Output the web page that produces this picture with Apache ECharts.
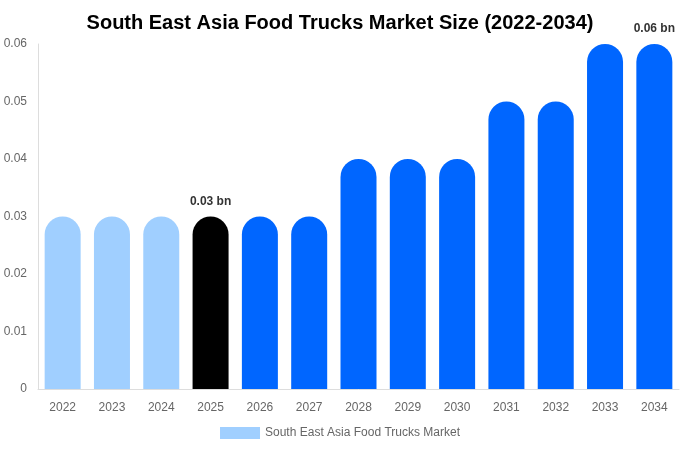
<!DOCTYPE html>
<html>
<head>
<meta charset="utf-8">
<script src="https://cdn.jsdelivr.net/npm/echarts@6/dist/echarts.min.js"></script>
<style>
html, body { margin: 0; padding: 0; background: #fff; }
#main { width: 680px; height: 450px; }
</style>
</head>
<body>
<div id="main"></div>
<script>
var years = ['2022', '2023', '2024', '2025', '2026', '2027', '2028', '2029', '2030', '2031', '2032', '2033', '2034'];
var values = [0.03, 0.03, 0.03, 0.03, 0.03, 0.03, 0.04, 0.04, 0.04, 0.05, 0.05, 0.06, 0.06];
var labelled = ['2025', '2034'];

var chart = echarts.init(document.getElementById('main'));

var data = values.map(function (v, i) {
    var y = years[i];
    var color = y < '2025' ? '#a0cfff' : (y === '2025' ? '#000000' : '#0066ff');
    var item = { value: v, itemStyle: { color: color } };
    if (labelled.indexOf(y) >= 0) {
        item.label = {
            show: true,
            position: 'top',
            distance: 9,
            formatter: function (p) { return p.value.toFixed(2) + ' bn'; },
            fontWeight: 'bold',
            fontSize: 12,
            color: '#333'
        };
    }
    return item;
});

chart.setOption({
    title: {
        text: 'South East Asia Food Trucks Market Size (2022-2034)',
        left: 'center',
        top: 8,
        textStyle: { fontSize: 20, fontWeight: 'bold', color: '#000', fontFamily: 'Liberation Sans, Arial, sans-serif' }
    },
    legend: {
        bottom: 6,
        left: 'center',
        icon: 'rect',
        itemWidth: 40,
        itemHeight: 12,
        itemGap: 6,
        textStyle: { color: '#666', fontSize: 12, fontFamily: 'Liberation Sans, Arial, sans-serif' },
        data: [{ name: 'South East Asia Food Trucks Market', itemStyle: { color: '#a0cfff' } }]
    },
    grid: { left: 38, right: 1, top: 44, bottom: 61 },
    xAxis: {
        type: 'category',
        data: years,
        axisLine: { lineStyle: { color: '#ddd' } },
        axisTick: { show: false },
        axisLabel: { color: '#666', fontSize: 12, margin: 13, fontFamily: 'Liberation Sans, Arial, sans-serif' }
    },
    yAxis: {
        type: 'value',
        min: 0,
        max: 0.06,
        interval: 0.01,
        axisLine: { show: true, lineStyle: { color: '#ddd' } },
        axisTick: { show: false },
        splitLine: { show: false },
        axisLabel: { color: '#666', fontSize: 12, margin: 11, fontFamily: 'Liberation Sans, Arial, sans-serif' }
    },
    series: [{
        name: 'South East Asia Food Trucks Market',
        type: 'bar',
        barWidth: 36,
        itemStyle: { borderRadius: [18, 18, 0, 0] },
        data: data
    }]
});
</script>
</body>
</html>
